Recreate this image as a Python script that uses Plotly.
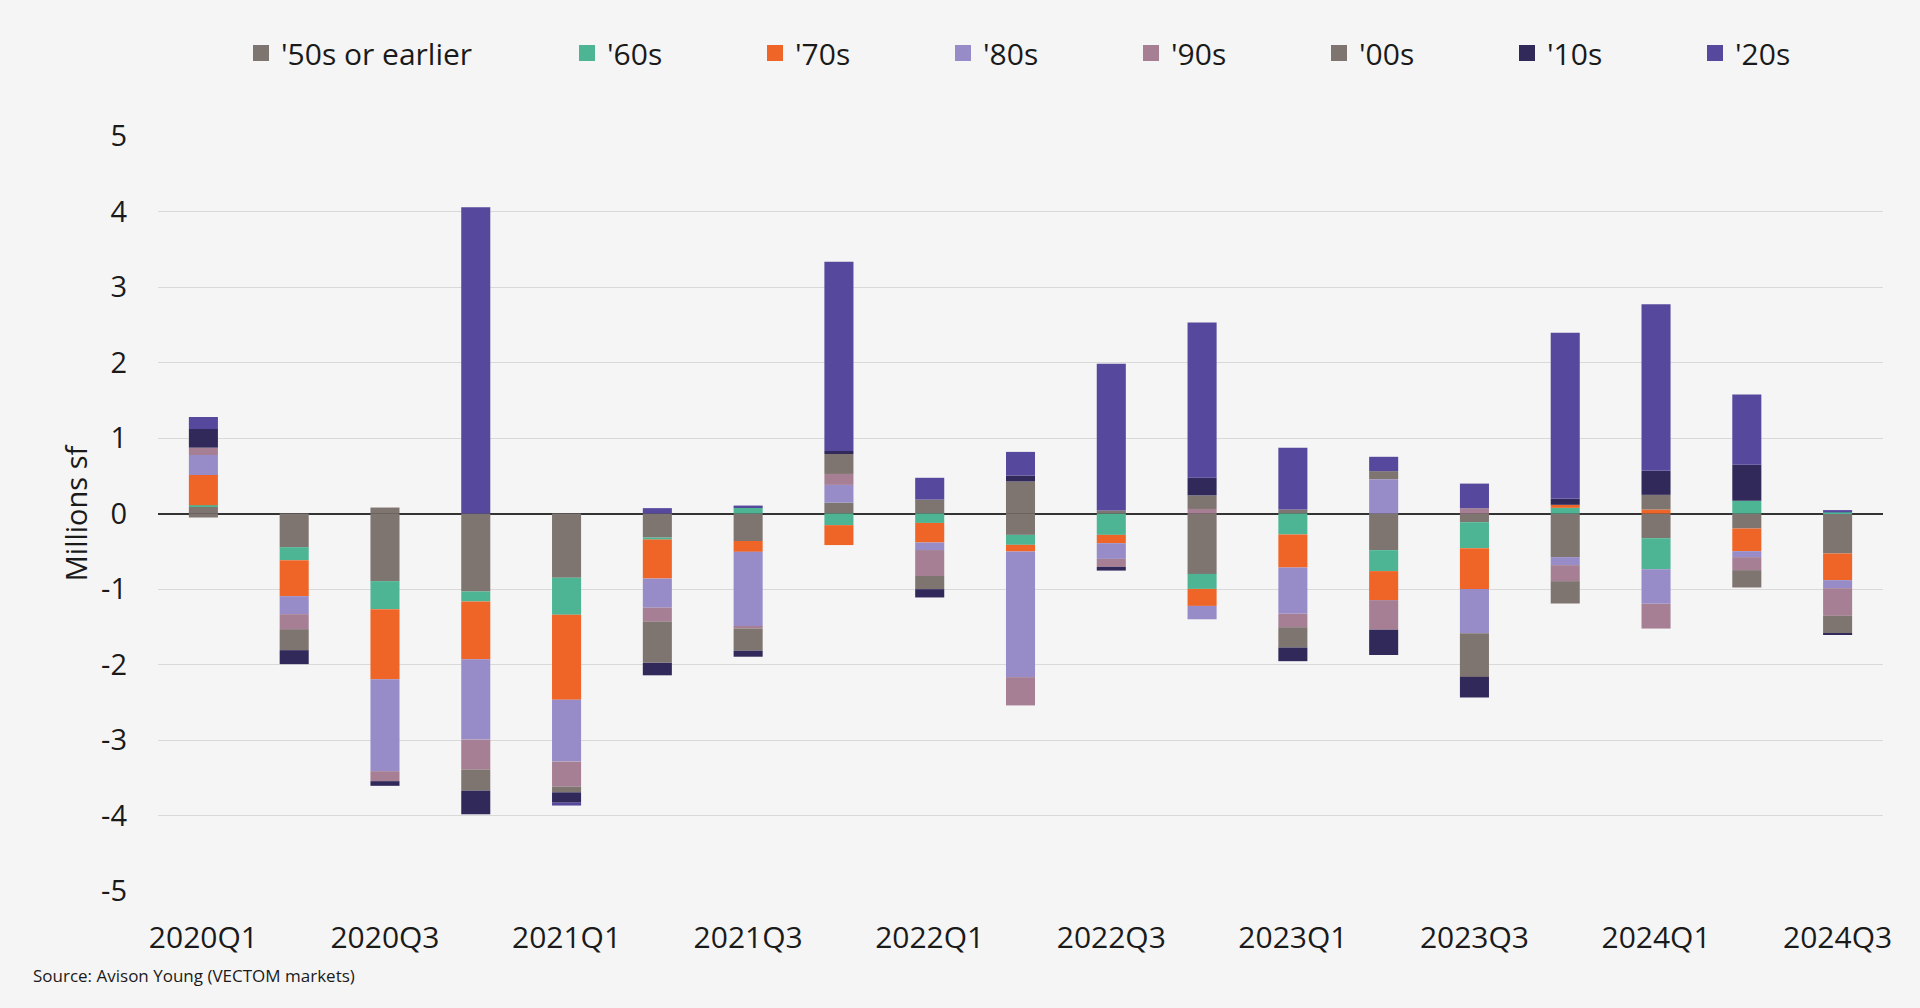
import plotly.graph_objects as go

quarters = ["2020Q1", "2020Q2", "2020Q3", "2020Q4",
            "2021Q1", "2021Q2", "2021Q3", "2021Q4",
            "2022Q1", "2022Q2", "2022Q3", "2022Q4",
            "2023Q1", "2023Q2", "2023Q3", "2023Q4",
            "2024Q1", "2024Q2", "2024Q3"]

series_names = ["'50s or earlier", "'60s", "'70s", "'80s", "'90s", "'00s", "'10s", "'20s"]

s50 = [0.088, -0.446, -0.896, -1.033, -0.852, -0.319, -0.364, 0.145, 0.184, -0.283,
       0.0, -0.80, 0.053, -0.485, -0.115, -0.578, -0.327, -0.199, -0.53]
s60 = [0.022, -0.172, -0.371, -0.132, -0.489, -0.027, 0.08, -0.154, -0.125, -0.132,
       -0.283, -0.199, -0.278, -0.278, -0.344, 0.075, -0.411, 0.168, 0.015]
s70 = [0.40, -0.477, -0.927, -0.764, -1.126, -0.516, -0.144, -0.264, -0.259, -0.088,
       -0.11, -0.225, -0.437, -0.384, -0.542, 0.04, 0.053, -0.30, -0.353]
s80 = [0.265, -0.238, -1.219, -1.066, -0.819, -0.385, -0.99, 0.234, -0.10, -1.664,
       -0.208, -0.177, -0.614, 0.455, -0.586, -0.106, -0.459, -0.079, -0.106]
s90 = [0.097, -0.199, -0.132, -0.396, -0.330, -0.187, -0.025, 0.145, -0.344, -0.375,
       -0.106, 0.06, -0.177, -0.392, 0.07, -0.212, -0.327, -0.172, -0.366]
s00 = [-0.053, -0.278, 0.079, -0.280, -0.077, -0.544, -0.294, 0.264, -0.174, 0.424,
       0.04, 0.18, -0.269, 0.106, -0.577, -0.296, 0.194, -0.23, -0.23]
s10 = [0.247, -0.185, -0.062, -0.313, -0.137, -0.165, -0.08, 0.04, -0.11, 0.079,
       -0.049, 0.234, -0.181, -0.335, -0.273, 0.079, 0.318, 0.477, -0.02]
s20 = [0.159, 0.0, 0.0, 4.055, -0.038, 0.071, 0.025, 2.506, 0.289, 0.313,
       1.943, 2.056, 0.817, 0.19, 0.326, 2.199, 2.208, 0.932, 0.03]

series_values = [s50, s60, s70, s80, s90, s00, s10, s20]
colors = ["#7e7470", "#4db594", "#ef6527", "#978cc8", "#a67f94", "#7e7470", "#31295a", "#55489d"]

y_tickvals = [-5, -4, -3, -2, -1, 0, 1, 2, 3, 4, 5]
y_ticktext = ["-5", "-4", "-3", "-2", "-1", "0", "1", "2", "3", "4", "5"]
x_tickvals = quarters[::2]

FONT = "Open Sans"
BG = "#f5f5f5"
TXT = "#1a1a1a"

fig = go.Figure()
for name, vals, col in zip(series_names, series_values, colors):
    fig.add_trace(go.Bar(x=quarters, y=vals, name=name, marker_color=col,
                         marker_line_width=0, showlegend=False))

# legend entries (square swatches)
for i, (name, col) in enumerate(zip(series_names, colors)):
    fig.add_trace(go.Scatter(x=[None], y=[None], mode="markers", name=name,
                             marker=dict(symbol="square", size=16, color=col),
                             legend="legend" if i == 0 else "legend2"))

legend_common = dict(orientation="h", xref="container", yref="container",
                     yanchor="middle", bgcolor="rgba(0,0,0,0)",
                     font=dict(family=FONT, size=30, color=TXT),
                     itemclick=False, itemdoubleclick=False)

fig.update_layout(
    width=1920, height=1008,
    paper_bgcolor=BG, plot_bgcolor=BG,
    barmode="relative", bargap=0.68,
    margin=dict(l=158, r=37, t=136, b=117),
    font=dict(family=FONT, color=TXT),
    legend=dict(x=241 / 1920, xanchor="left", y=1 - 53 / 1008, **legend_common),
    legend2=dict(x=567 / 1920, xanchor="left", y=1 - 53 / 1008,
                 entrywidth=143, entrywidthmode="pixels", **legend_common),
    xaxis=dict(type="category", categoryorder="array", categoryarray=quarters,
               tickmode="array", tickvals=x_tickvals, ticks="", ticklabelstandoff=26,
               tickfont=dict(family=FONT, size=30, color=TXT),
               showgrid=False, zeroline=False, showline=False),
    yaxis=dict(range=[-5, 5], tickmode="array", tickvals=y_tickvals, ticktext=y_ticktext,
               tickfont=dict(family=FONT, size=29, color=TXT), ticklabelstandoff=30,
               showgrid=True, gridcolor="#d9d9d9", gridwidth=1,
               zeroline=True, zerolinecolor="#333333", zerolinewidth=1.5,
               ticks="", title=dict(text="Millions sf", standoff=4,
               font=dict(family=FONT, size=29, color=TXT))),
    annotations=[dict(text="Source: Avison Young (VECTOM markets)", xref="paper", yref="paper",
                      x=(31 - 158) / 1725, y=(891 - 975) / 755, xanchor="left", yanchor="middle",
                      showarrow=False, font=dict(family=FONT, size=17, color=TXT))],
)

fig.write_html("out.html")
